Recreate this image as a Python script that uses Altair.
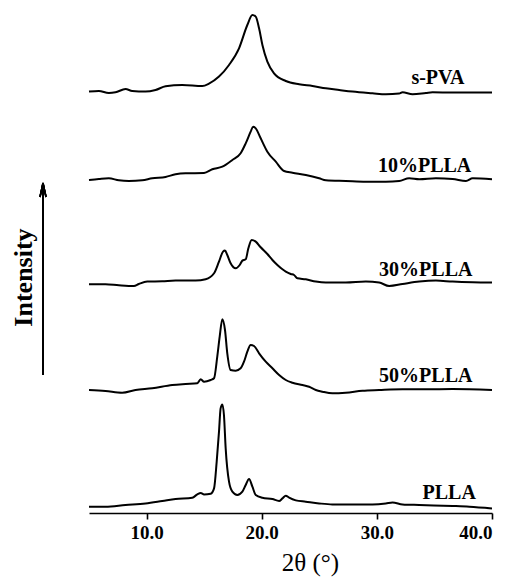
import altair as alt
import pandas as pd

# Wide-angle X-ray diffraction patterns (2θ in degrees, intensity in arbitrary units)
samples = ["s-PVA", "10%PLLA", "30%PLLA", "50%PLLA", "PLLA"]

# vertical offset of each pattern's baseline (a.u.)
offsets = [420.7, 333.0, 228.7, 123.0, 6.3]

two_theta_spva = [5.0, 5.86, 6.72, 7.30, 8.17, 8.75, 9.91, 10.78, 11.65, 13.10, 14.84, 15.42,
                  16.29, 17.16, 18.03, 18.75, 19.19, 19.48, 19.77, 20.06, 20.49, 21.07, 22.09,
                  23.25, 24.41, 25.57, 26.73, 27.88, 29.62, 30.78, 31.94, 32.23, 33.10, 34.26,
                  34.84, 36.58, 40.0]
intensity_spva = [0.7, 1.3, -0.7, 0.0, 3.3, 1.3, 0.7, 2.3, 6.0, 7.3, 6.3, 8.7,
                  15.7, 27.3, 44.0, 67.3, 77.3, 75.7, 64.0, 47.3, 30.7, 19.0, 11.3,
                  8.0, 6.3, 4.0, 2.3, 0.7, -1.0, -2.0, -1.3, 0.0, -2.0, -0.7,
                  0.0, -0.3, -0.3]

two_theta_10 = [5.0, 5.86, 6.72, 7.59, 8.46, 9.62, 10.49, 11.65, 12.52, 13.39, 14.99, 15.71,
                16.58, 17.45, 18.17, 18.61, 19.04, 19.25, 19.48, 19.91, 20.49, 21.22, 21.94,
                22.67, 23.83, 24.99, 25.57, 27.30, 29.04, 30.78, 31.94, 32.81, 33.68, 35.13,
                36.58, 37.74, 38.32, 40.0]
intensity_10 = [0.0, 1.0, 1.7, -0.3, -1.0, -0.3, 1.7, 3.0, 5.7, 6.7, 7.0, 10.7,
                13.3, 20.0, 26.7, 36.7, 48.3, 53.3, 51.7, 41.7, 28.3, 18.3, 9.0,
                7.3, 5.0, 1.7, -0.3, -1.0, -1.7, -1.7, -1.0, 1.7, 0.7, 1.7,
                1.0, -1.0, 1.7, 0.7]

two_theta_30 = [5.0, 6.43, 7.59, 8.90, 9.33, 10.06, 11.36, 12.52, 14.26, 15.13, 15.86, 16.29,
                16.64, 16.81, 17.01, 17.30, 17.74, 18.09, 18.32, 18.61, 18.84, 19.13, 19.48,
                19.91, 20.49, 20.93, 21.36, 21.80, 22.09, 22.52, 22.81, 23.10, 23.83, 24.70,
                25.57, 27.30, 29.04, 30.20, 31.07, 32.23, 33.68, 35.13, 36.58, 38.32, 40.0]
intensity_30 = [0.0, 0.0, -1.0, -1.7, 0.3, 2.7, 3.0, 3.7, 3.7, 5.0, 11.0, 22.7,
                32.7, 33.7, 29.3, 21.0, 16.0, 19.3, 23.7, 25.0, 36.0, 44.3, 42.7,
                37.0, 30.3, 24.3, 19.3, 15.0, 12.7, 10.3, 9.3, 6.0, 5.0, 2.7,
                1.7, 1.7, 2.7, 1.7, -1.7, 0.3, 2.7, 3.7, 2.7, 2.0, 1.7]

two_theta_50 = [5.0, 6.43, 7.88, 9.04, 10.49, 12.23, 13.39, 14.41, 14.70, 14.99, 15.57, 15.86,
                16.14, 16.35, 16.58, 16.81, 17.01, 17.30, 17.74, 18.17, 18.46, 18.75, 19.04,
                19.33, 19.77, 20.35, 20.93, 21.51, 22.09, 22.67, 23.54, 24.12, 24.70, 25.28,
                26.14, 27.30, 28.75, 30.20, 32.23, 34.26, 36.58, 40.0]
intensity_50 = [0.0, -1.0, -2.7, 0.0, 1.7, 5.0, 6.0, 6.7, 10.7, 8.3, 10.0, 11.7,
                33.3, 53.3, 70.7, 60.0, 36.7, 20.0, 19.3, 21.7, 28.3, 38.3, 45.0,
                44.0, 36.7, 28.3, 21.7, 15.0, 10.0, 7.3, 5.0, 3.3, 0.0, -1.7,
                -3.3, -2.7, -0.7, 0.0, 0.7, 0.7, 1.0, 0.0]

two_theta_plla = [5.0, 6.43, 8.17, 9.91, 11.36, 12.52, 13.97, 14.41, 14.70, 14.99, 15.57, 15.86,
                  16.09, 16.29, 16.43, 16.58, 16.72, 16.87, 17.16, 17.45, 17.88, 18.32, 18.61,
                  18.90, 19.19, 19.48, 20.06, 20.93, 21.51, 21.80, 22.09, 22.38, 22.96, 23.83,
                  24.99, 26.14, 27.88, 29.62, 30.78, 31.36, 32.23, 33.68, 36.58, 38.03, 40.0]
intensity_plla = [0.0, 0.0, 1.7, 3.3, 5.7, 7.7, 9.0, 12.3, 13.7, 12.3, 13.0, 18.3,
                  45.0, 75.0, 98.3, 102.3, 91.7, 58.3, 25.0, 15.0, 11.7, 15.0, 21.7,
                  27.7, 20.0, 11.7, 9.0, 7.7, 5.7, 8.3, 11.0, 9.0, 6.3, 5.0,
                  3.3, 2.3, 2.3, 2.3, 3.3, 4.3, 2.3, 1.7, 0.7, 0.0, -1.7]

angles = [two_theta_spva, two_theta_10, two_theta_30, two_theta_50, two_theta_plla]
intensities = [intensity_spva, intensity_10, intensity_30, intensity_50, intensity_plla]

# right edge (2θ) of each pattern's name
label_theta = [37.6, 38.2, 38.3, 38.3, 38.6]
tick_values = [10, 20, 30, 40]

rows = []
for name, off, xs, ys in zip(samples, offsets, angles, intensities):
    for x, y in zip(xs, ys):
        rows.append({"sample": name, "two_theta": x, "signal": off + y})
patterns = pd.DataFrame(rows)

labels = pd.DataFrame({
    "sample": samples,
    "two_theta": label_theta,
    "signal": [o + 8 for o in offsets],
})

serif = "Liberation Serif"

x_enc = alt.X(
    "two_theta:Q",
    scale=alt.Scale(domain=[5, 40], nice=False, zero=False),
    axis=alt.Axis(
        title="2θ (°)",
        values=tick_values,
        format=".1f",
        grid=False,
        domainColor="black",
        domainWidth=1.6,
        tickColor="black",
        tickWidth=1.6,
        tickSize=6,
        labelFont=serif,
        labelFontWeight="bold",
        labelFontSize=19,
        labelColor="black",
        labelPadding=4,
        titleFont=serif,
        titleFontSize=25,
        titleFontWeight="normal",
        titleColor="black",
        titleX=221,
        titleY=57,
        titleBaseline="alphabetic",
    ),
)
y_enc = alt.Y(
    "signal:Q",
    scale=alt.Scale(domain=[0, 503], nice=False, zero=False),
    axis=alt.Axis(
        title="Intensity",
        domain=False,
        ticks=False,
        labels=False,
        grid=False,
        titleFont=serif,
        titleFontSize=26,
        titleFontWeight="bold",
        titleColor="black",
        titleAngle=270,
        titleX=-66,
        titleY=267,
        titleAlign="center",
        titleBaseline="middle",
    ),
)

lines = alt.Chart(patterns).mark_line(
    color="black", strokeWidth=2, interpolate="monotone"
).encode(x=x_enc, y=y_enc, detail="sample:N")

names = alt.Chart(labels).mark_text(
    font=serif, fontSize=20, fontWeight="bold", align="right", baseline="alphabetic", color="black"
).encode(x="two_theta:Q", y="signal:Q", text="sample:N")

# upward arrow beside the intensity title
shaft = alt.Chart(labels).mark_rule(color="black", strokeWidth=1.4).encode(
    x=alt.value(-46), y=alt.value(173), y2=alt.value(365)
)
head_left = alt.Chart(labels).mark_rule(color="black", strokeWidth=1.4).encode(
    x=alt.value(-46), x2=alt.value(-49), y=alt.value(173), y2=alt.value(187)
)
head_right = alt.Chart(labels).mark_rule(color="black", strokeWidth=1.4).encode(
    x=alt.value(-46), x2=alt.value(-43), y=alt.value(173), y2=alt.value(187)
)

chart = alt.layer(lines, names, shaft, head_left, head_right).properties(
    width=403,
    height=503,
    autosize=alt.AutoSizeParams(type="none"),
    padding={"left": 89, "top": 10, "right": 19, "bottom": 65},
    background="white",
).configure_view(stroke=None)

chart.save("out.html", embed_options={"renderer": "svg", "actions": False})
